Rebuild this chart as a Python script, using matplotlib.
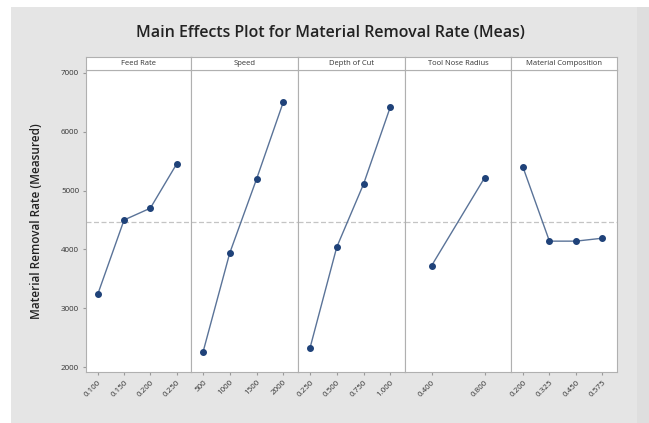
import matplotlib.pyplot as plt
from matplotlib.patches import Rectangle
import numpy as np

# mean material removal rate at each factor level
factors = ['Feed Rate', 'Speed', 'Depth of Cut', 'Tool Nose Radius', 'Material Composition']
feed_levels = ['0.100', '0.150', '0.200', '0.250']
feed_mrr = [3240, 4500, 4700, 5450]
speed_levels = ['500', '1000', '1500', '2000']
speed_mrr = [2255, 3940, 5195, 6505]
doc_levels = ['0.250', '0.500', '0.750', '1.000']
doc_mrr = [2325, 4040, 5110, 6420]
nose_levels = ['0.400', '0.800']
nose_mrr = [3720, 5215]
comp_levels = ['0.200', '0.325', '0.450', '0.575']
comp_mrr = [5400, 4140, 4140, 4190]

levels = [feed_levels, speed_levels, doc_levels, nose_levels, comp_levels]
means = [feed_mrr, speed_mrr, doc_mrr, nose_mrr, comp_mrr]
grand_mean = np.mean(feed_mrr)

W, H = 649, 423
fig = plt.figure(figsize=(W / 100, H / 100), dpi=100)
fig.patch.set_facecolor('#ffffff')
fig.patches.append(Rectangle((11 / W, 0), 626 / W, 1 - 7 / H, transform=fig.transFigure,
                             facecolor='#e5e5e5', edgecolor='none', zorder=-10))
fig.patches.append(Rectangle((637 / W, 0), 12 / W, 1 - 7 / H, transform=fig.transFigure,
                             facecolor='#dedede', edgecolor='none', zorder=-10))

edges = [86, 191, 298, 405, 511, 617]
top, bottom, strip_top = 70, 372, 57
font = 'Open Sans'

for i, name in enumerate(factors):
    x0, x1 = edges[i], edges[i + 1]
    ax = fig.add_axes([x0 / W, 1 - bottom / H, (x1 - x0) / W, (bottom - top) / H])
    ax.set_facecolor('white')
    n = len(levels[i])
    pos = np.arange(n)
    ax.axhline(grand_mean, color='#c4c4c4', lw=0.9, ls=(0, (4, 2)), zorder=1)
    ax.plot(pos, means[i], color='#5a7398', lw=1.0, zorder=2)
    ax.plot(pos, means[i], 'o', color='#1f4279', ms=4, zorder=3)
    ax.set_ylim(1915, 7050)
    if n == 4:
        ax.set_xlim(-0.45, 3.55)
    else:
        ax.set_xlim(-0.5, 1.5)
    ax.set_xticks(pos)
    ax.set_xticklabels(levels[i], rotation=45, ha='right', rotation_mode='anchor',
                       fontsize=5.8, color='#333333', family=font)
    ax.tick_params(axis='x', length=2, color='#999999', pad=3)
    for s in ax.spines.values():
        s.set_color('#b0b0b0')
        s.set_linewidth(0.8)
    if i == 0:
        ax.set_yticks([2000, 3000, 4000, 5000, 6000, 7000])
        ax.tick_params(axis='y', length=2, color='#999999', labelsize=5.8,
                       labelcolor='#333333', pad=3)
        for t in ax.get_yticklabels():
            t.set_family(font)
        ax.set_ylabel('Material Removal Rate (Measured)', fontsize=8.5,
                      fontweight='semibold', color='#222222', family=font, labelpad=13)
    else:
        ax.set_yticks([])

    # factor name header above each panel
    sx = fig.add_axes([x0 / W, 1 - top / H, (x1 - x0) / W, (top - strip_top) / H])
    sx.set_facecolor('white')
    sx.set_xticks([])
    sx.set_yticks([])
    for s in sx.spines.values():
        s.set_color('#b0b0b0')
        s.set_linewidth(0.8)
    sx.text(0.5, 0.5, name, ha='center', va='center', fontsize=5.5,
            color='#333333', family=font, transform=sx.transAxes)

fig.text(330 / W, 1 - 33 / H, 'Main Effects Plot for Material Removal Rate (Meas)',
         ha='center', va='center', fontsize=11.5, fontweight='semibold',
         color='#222222', family=font)

fig.savefig('out.png', dpi=100, facecolor=fig.get_facecolor())
plt.close()
